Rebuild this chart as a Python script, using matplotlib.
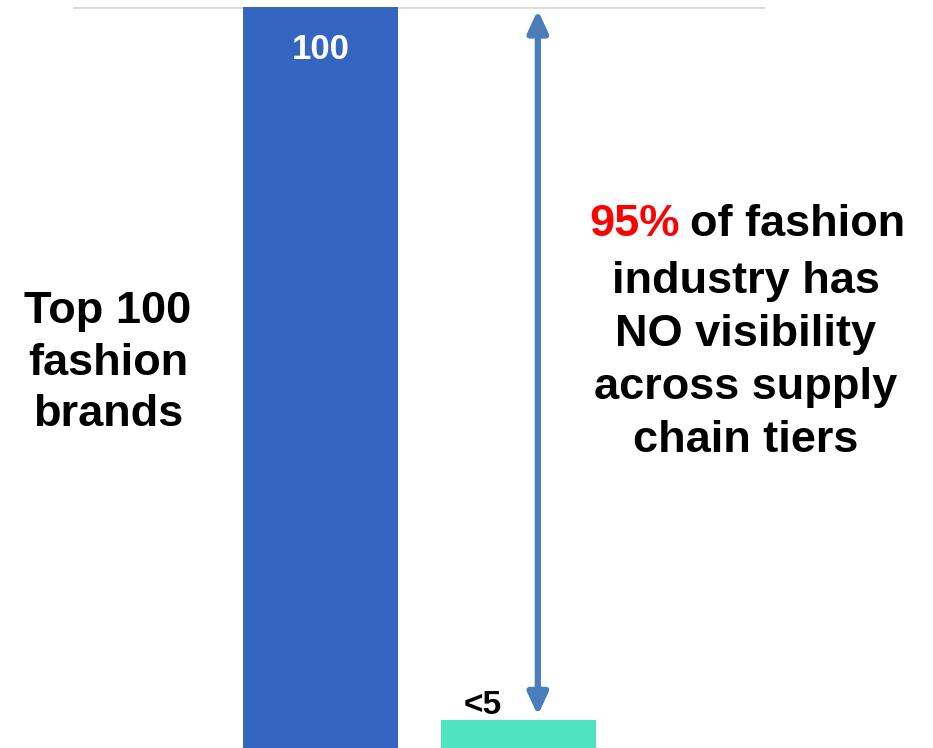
import matplotlib.pyplot as plt

categories = ['Top 100 fashion brands', 'Brands with visibility']
values = [100, 3.8]
value_labels = ['100', '<5']
bar_colors = ['#3465c1', '#50e3c2']

plt.rcParams['font.family'] = ['Liberation Sans', 'DejaVu Sans']

fig = plt.figure(figsize=(9.33, 7.48), dpi=100)
ax = fig.add_axes([73 / 933, 0, (765 - 73) / 933, 1 - 7 / 748])

x = [0, 1]
ax.bar(x, values, width=0.785, color=bar_colors, zorder=2)
ax.set_xlim(-1.253, 2.25)
ax.set_ylim(0, 100)

# gridline at top only
ax.axhline(100, color='#d9d9d9', lw=2, zorder=1)
for s in ax.spines.values():
    s.set_visible(False)
ax.set_xticks([])
ax.set_yticks([])

# value labels
ax.text(x[0], 94.3, value_labels[0], ha='center', va='center',
        color='white', fontsize=25, fontweight='bold')
ax.text(0.823, 5.7, value_labels[1], ha='center', va='center',
        color='black', fontsize=24, fontweight='bold')

# double arrow
ax.annotate('', xy=(1.10, 99.6), xytext=(1.10, 4.4),
            arrowprops=dict(arrowstyle='<|-|>,head_length=1.3,head_width=0.6',
                            color='#4a7ebb', lw=4.5, shrinkA=0, shrinkB=0))

# left label
fig.text(108 / 933, 1 - 363 / 748, 'Top 100\nfashion\nbrands', ha='center', va='center',
         fontsize=32.5, fontweight='bold', linespacing=1.33)

# right text block
fig.text(680 / 933, 1 - 225 / 748, '95%', ha='right', va='center',
         fontsize=32.5, fontweight='bold', color='#ff0000')
fig.text(690 / 933, 1 - 225 / 748, 'of fashion', ha='left', va='center',
         fontsize=32.5, fontweight='bold')
fig.text(746 / 933, 1 - 361 / 748, 'industry has\nNO visibility\nacross supply\nchain tiers',
         ha='center', va='center', fontsize=32.5, fontweight='bold', linespacing=1.38)

fig.savefig('out.png', dpi=100)
